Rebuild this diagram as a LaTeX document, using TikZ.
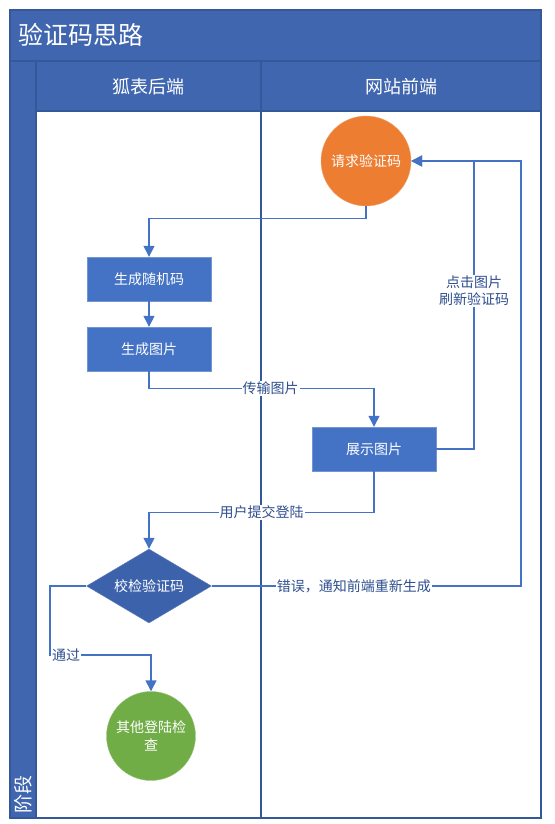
\documentclass[tikz,border=0pt]{standalone}
\usepackage{fontspec}
\setmainfont{Noto Sans CJK SC}
\usepackage{tikz}
\usetikzlibrary{arrows.meta}
\usetikzlibrary{positioning,shapes}
\usetikzlibrary{shapes.geometric}
\definecolor{laneblue}{HTML}{4066AF}
\definecolor{laneline}{HTML}{35589B}
\definecolor{boxblue}{HTML}{4472C4}
\definecolor{diablue}{HTML}{3C62AB}
\definecolor{reqorange}{HTML}{ED7D31}
\definecolor{okgreen}{HTML}{70AD47}
\definecolor{lbltext}{HTML}{2F4F8F}

\begin{document}
\begin{tikzpicture}[x=1pt, y=-1pt,
        box/.style={rectangle, fill=boxblue, draw=boxblue!75!white, text=white,
            minimum width=124pt, minimum height=44pt, font=\fontsize{14}{17}\selectfont},
        round/.style={circle, text=white, minimum size=90pt, inner sep=1pt,
            align=center, font=\fontsize{14}{18}\selectfont},
        flow/.style={draw=boxblue, line width=1.4pt, -{Triangle[length=11pt,width=11pt]}},
        lbl/.style={fill=white, text=lbltext, inner sep=1pt, font=\fontsize{14}{17}\selectfont},
        lane/.style={draw=laneline, line width=1.2pt}]
    \useasboundingbox (0,0) rectangle (554,824);
    % swimlanes
    \fill[laneblue] (10,10) rectangle (541,111);
    \fill[laneblue] (10,111) rectangle (36,818);
    \draw[lane] (10,61) -- (541,61);
    \draw[lane] (36,61) -- (36,818);
    \draw[lane] (36,111) -- (541,111);
    \draw[lane] (261,61) -- (261,818);
    \draw[lane, line width=1.6pt] (10,10) rectangle (541,818);
    \node[anchor=west, text=white, font=\fontsize{25}{28}\selectfont] (title) at (15,35) {验证码思路};
    \node[text=white, font=\fontsize{18}{21}\selectfont] (back) at (148.5,87) {狐表后端};
    \node[text=white, font=\fontsize{18}{21}\selectfont] (front) at (401,87) {网站前端};
    \node[rotate=90, text=white, font=\fontsize{19}{22}\selectfont] (stage) at (23,794) {阶段};
    % nodes
    \node[round, fill=reqorange, draw=reqorange!70!white] (req) at (366,161) {请求验证码};
    \node[box] (rand) at (149,279) {生成随机码};
    \node[box, below of=rand, node distance=70pt] (img) {生成图片};
    \node[box] (show) at (374,449) {展示图片};
    \node[diamond, fill=diablue, draw=diablue!80!white, text=white, aspect=1.7, inner sep=0pt,
        minimum width=125pt, minimum height=74pt, font=\fontsize{14}{17}\selectfont] (check) at (149,586) {校检验证码};
    \node[round, fill=okgreen, draw=okgreen!70!white, minimum size=89pt] (other) at (151,736) {其他登陆检\\查};
    \coordinate (clickR) at (474,161);
    \coordinate (errR) at (521,586);
    \coordinate (passL) at (50,655);
    % connectors
    \draw[flow] (req.south) -- ++(0,12) -| (rand.north);
    \draw[flow] (rand) -- (img);
    \draw[flow] (img.south) -- ++(0,17) -| node[lbl, pos=0.27] {传输图片} (show.north);
    \draw[flow] (show.east) -| node[lbl, pos=0.775, align=center] {点击图片\\刷新验证码} (clickR) -- (req.east);
    \draw[flow] (show.south) -- ++(0,41) -| node[lbl, pos=0.25] {用户提交登陆} (check.north);
    \draw[flow] (check.east) -- node[lbl, pos=0.46] {错误，通知前端重新生成} (errR) |- (req.east);
    \draw[flow] (check.west) -| (passL) -| node[lbl, pos=0.08] {通过} (other.north);
\end{tikzpicture}
\end{document}
